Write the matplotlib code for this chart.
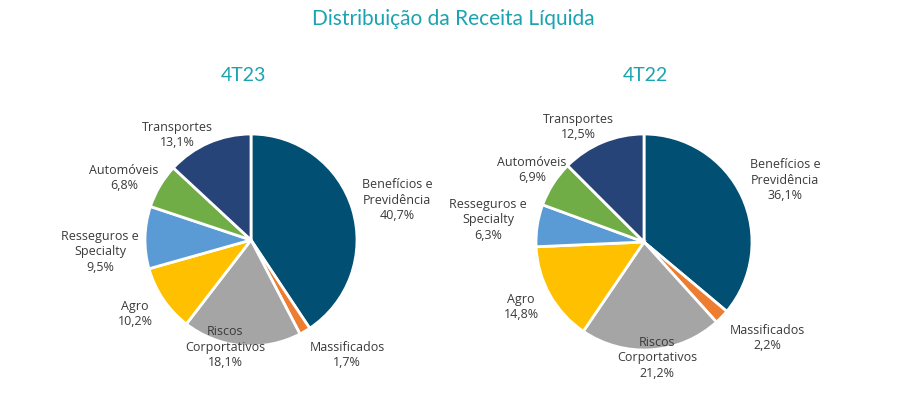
import matplotlib.pyplot as plt

# data
categories = ["Benefícios e\nPrevidência", "Massificados", "Riscos\nCorportativos", "Agro",
              "Resseguros e\nSpecialty", "Automóveis", "Transportes"]
share_4t23 = [40.7, 1.7, 18.1, 10.2, 9.5, 6.8, 13.1]
share_4t22 = [36.1, 2.2, 21.2, 14.8, 6.3, 6.9, 12.5]
colors = ["#014F72", "#ED7D31", "#A5A5A5", "#FFC000", "#5B9BD5", "#70AD47", "#264478"]

# label anchor points (pixel coords, y from top)
pos_4t23 = [(397, 200), (347, 355), (225, 347), (135, 314), (100, 252), (124, 178), (177, 135)]
pos_4t22 = [(785, 180), (767, 338), (657, 358), (521, 307), (488, 220), (532, 170), (578, 127)]

W, H = 903, 394
teal = "#1BA3B1"
txt = "#3A3A3A"

fig = plt.figure(figsize=(W / 100, H / 100), dpi=100)
ax = fig.add_axes([0, 0, 1, 1])

def draw(values, center, radius, positions, title, title_x):
    ax.pie(values, colors=colors, startangle=90, counterclock=False,
           center=(center[0], H - center[1]), radius=radius, frame=True,
           wedgeprops=dict(edgecolor="white", linewidth=2))
    for cat, v, (x, y) in zip(categories, values, positions):
        ax.text(x, H - y, "%s\n%s%%" % (cat, ("%.1f" % v).replace(".", ",")),
                ha="center", va="center", fontsize=9, color=txt,
                family="Open Sans", linespacing=1.25)
    ax.text(title_x, H - 75, title, ha="center", va="center", fontsize=14,
            color=teal, family="Lato")

draw(share_4t23, (251, 240), 106, pos_4t23, "4T23", 243)
draw(share_4t22, (644, 242), 108, pos_4t22, "4T22", 645)
ax.set_xlim(0, W)
ax.set_ylim(0, H)
ax.set_aspect("equal")
ax.axis("off")

ax.text(453, H - 19, "Distribuição da Receita Líquida", ha="center", va="center",
        fontsize=15, color=teal, family="Lato")

fig.savefig("out.png", dpi=100)
